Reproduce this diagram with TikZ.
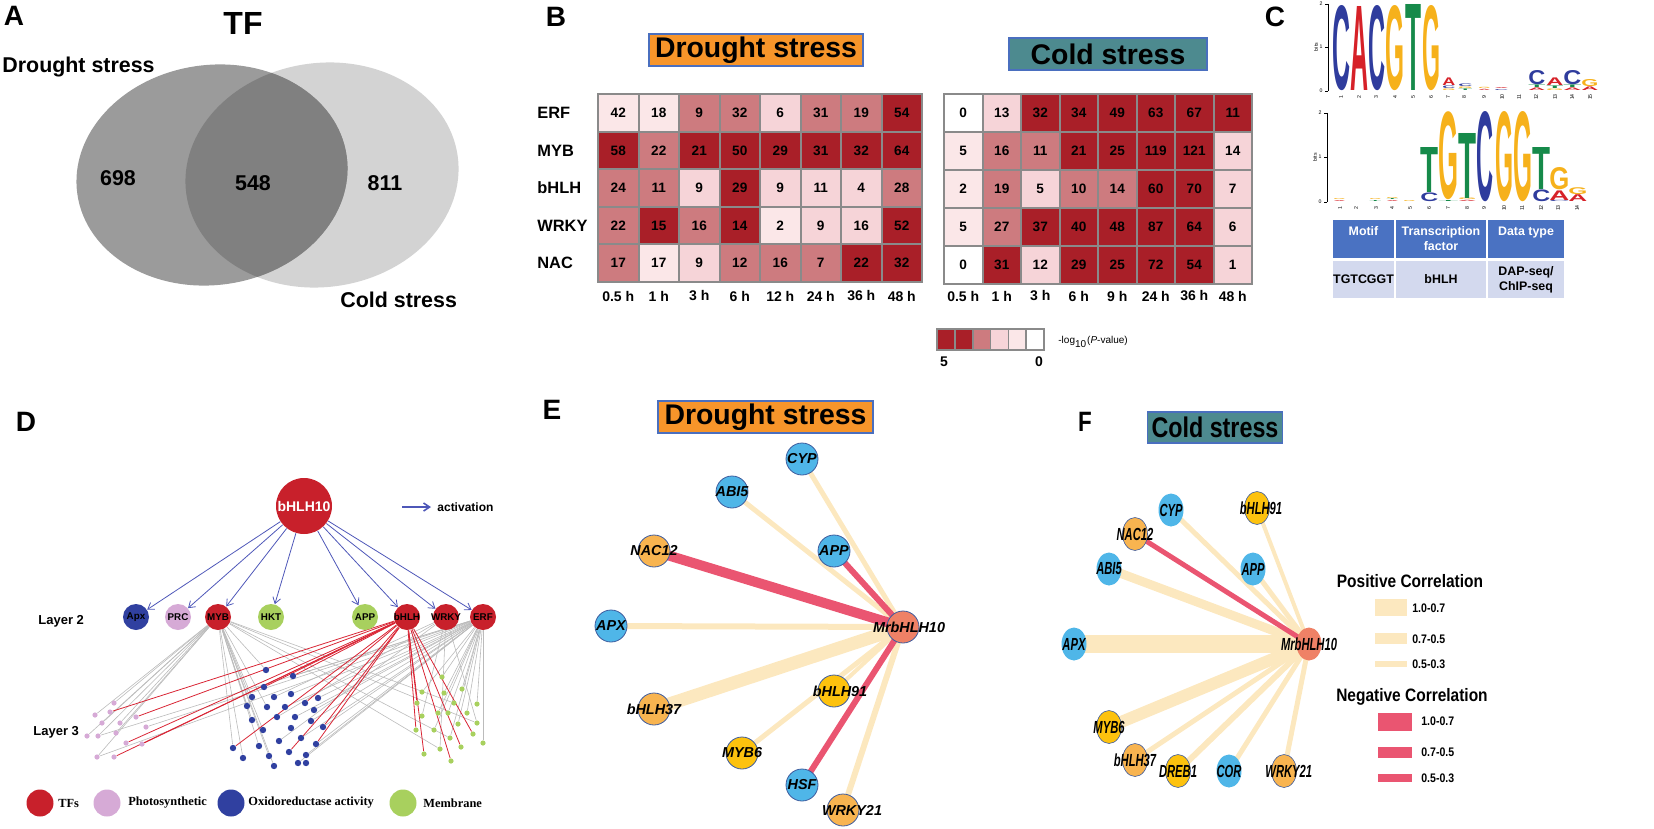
\documentclass[tikz,border=0pt]{standalone}
\usepackage{fontspec}
\setmainfont{Liberation Sans}
\setsansfont{Liberation Sans}
\newfontfamily\legserif{Liberation Serif}
\usetikzlibrary{positioning,arrows.meta,shapes.geometric,backgrounds}

\definecolor{vennleft}{HTML}{9B9B9B}
\definecolor{vennright}{HTML}{D3D3D3}
\definecolor{venndark}{HTML}{808080}
\definecolor{hm0}{HTML}{FFFFFF}
\definecolor{hm1}{HTML}{FBE7E8}
\definecolor{hm2}{HTML}{F6D4D8}
\definecolor{hm3}{HTML}{CD7B7F}
\definecolor{hm4}{HTML}{A91F28}
\definecolor{hmgrid}{HTML}{8A8A8A}
\definecolor{droughtorange}{HTML}{F7952A}
\definecolor{coldteal}{HTML}{4D8A8F}
\definecolor{boxedge}{HTML}{4A6FBF}
\definecolor{logoA}{HTML}{D62128}
\definecolor{logoC}{HTML}{2F3C9D}
\definecolor{logoG}{HTML}{F6B11B}
\definecolor{logoT}{HTML}{168A4A}
\definecolor{tabblue}{HTML}{4A72C2}
\definecolor{tabrow}{HTML}{D3D9EE}
\definecolor{tfred}{HTML}{C8202B}
\definecolor{photopink}{HTML}{D6AAD6}
\definecolor{oxiblue}{HTML}{3040A0}
\definecolor{membgreen}{HTML}{A8D05E}
\definecolor{actblue}{HTML}{4E57B8}
\definecolor{edgegray}{HTML}{BBBBBB}
\definecolor{edgered}{HTML}{D92535}
\definecolor{geneblue}{HTML}{4FB6E8}
\definecolor{geneorange}{HTML}{F8B450}
\definecolor{geneyellow}{HTML}{FDC20E}
\definecolor{hubred}{HTML}{EF8166}
\definecolor{geneedge}{HTML}{3E5C9E}
\definecolor{poscor}{HTML}{FCE8BF}
\definecolor{negcor}{HTML}{EA5571}

\tikzset{
  panellab/.style={inner sep=0, font=\bfseries\fontsize{14}{16}\selectfont},
  vennlab/.style={inner sep=0, font=\bfseries\fontsize{10.7}{12}\selectfont},
  stressbox/.style={draw=boxedge, line width=0.6pt, inner sep=0, minimum height=16pt, font=\bfseries\fontsize{14.2}{16}\selectfont},
  rowlab/.style={anchor=west, inner sep=0, font=\bfseries\fontsize{8.2}{9}\selectfont},
  collab/.style={inner sep=0, font=\bfseries\fontsize{7}{8}\selectfont},
  hmcell/.style={rectangle, draw=hmgrid, line width=1pt, inner sep=0, font=\bfseries\fontsize{6.8}{8}\selectfont},
  keycell/.style={rectangle, draw=hmgrid, line width=0.8pt, inner sep=0, minimum width=8.9pt, minimum height=10.5pt},
  logo/.style={anchor=south west, inner sep=0, font=\sffamily\bfseries},
  ticklab/.style={inner sep=0, font=\fontsize{2.6}{3}\selectfont},
  tabhead/.style={draw=white, line width=0.6pt, fill=tabblue, text=white, inner sep=0, minimum height=20pt, align=center, font=\bfseries\fontsize{6.2}{7.5}\selectfont},
  tabcell/.style={draw=white, line width=0.6pt, fill=tabrow, inner sep=0, minimum height=19.5pt, align=center, font=\bfseries\fontsize{6.2}{7.5}\selectfont},
  hubnode/.style={circle, fill=tfred, inner sep=0, minimum size=28pt, text=white, font=\bfseries\fontsize{7}{8}\selectfont},
  layernode/.style={circle, inner sep=0, minimum size=13pt},
  layerlab/.style={inner sep=0, font=\bfseries\fontsize{4.9}{5}\selectfont},
  sidelab/.style={anchor=west, inner sep=0, font=\bfseries\fontsize{6.5}{7}\selectfont},
  pdot/.style={circle, fill=photopink, inner sep=0, minimum size=2.6pt},
  odot/.style={circle, fill=oxiblue, inner sep=0, minimum size=3.2pt},
  mdot/.style={circle, fill=membgreen, inner sep=0, minimum size=2.6pt},
  actarrow/.style={draw=actblue, line width=0.4pt, -{Straight Barb[length=3pt,width=4pt]}},
  grayedge/.style={draw=edgegray, line width=0.3pt},
  rededge/.style={draw=edgered, line width=0.4pt},
  legdot/.style={circle, inner sep=0, minimum size=13.5pt},
  legtxt/.style={anchor=west, inner sep=0, font=\legserif\bfseries\fontsize{6.2}{7}\selectfont},
  gene/.style={circle, draw=geneedge, line width=0.4pt, inner sep=0, minimum size=16pt},
  genelab/.style={inner sep=0, font=\bfseries\itshape\fontsize{7.2}{8}\selectfont},
  coldgene/.style={ellipse, draw=geneedge, line width=0.3pt, inner sep=0, minimum width=12.5pt, minimum height=16.5pt},
  coldlab/.style={inner sep=0, xscale=0.8, yscale=1.25, font=\bfseries\itshape\fontsize{7}{8}\selectfont},
  poslink/.style={draw=poscor, line width=#1},
  neglink/.style={draw=negcor, line width=#1},
  corrtitle/.style={inner sep=0, xscale=0.86, font=\bfseries\fontsize{9}{10}\selectfont},
  corrlab/.style={anchor=west, inner sep=0, xscale=0.85, font=\bfseries\fontsize{6.2}{7}\selectfont}
}

\begin{document}
\begin{tikzpicture}[x=0.5pt,y=-0.5pt]
\useasboundingbox (0,0) rectangle (1654,829);

% Panel letters
\node[panellab] (labA) at (14,16) {A};
\node[panellab] (labB) at (556,17) {B};
\node[panellab] (labC) at (1275,17) {C};
\node[panellab] (labD) at (26,422) {D};
\node[panellab] (labE) at (552,410) {E};
\node[panellab, xscale=0.8] (labF) at (1085,422) {F};

% Venn diagram
\node[inner sep=0, font=\bfseries\fontsize{16}{18}\selectfont] (tftitle) at (243,23) {TF};
\fill[vennright, rotate around={8:(322,175)}] (322,175) ellipse [x radius=137, y radius=112];
\fill[vennleft, rotate around={8:(212,175)}] (212,175) ellipse [x radius=136, y radius=110];
\begin{scope}
  \clip[rotate around={8:(212,175)}] (212,175) ellipse [x radius=136, y radius=110];
  \fill[venndark, rotate around={8:(322,175)}] (322,175) ellipse [x radius=137, y radius=112];
\end{scope}
\node[vennlab, anchor=west] (vdrought) at (2,67) {Drought stress};
\node[vennlab, anchor=west] (vcold) at (340,300) {Cold stress};
\node[vennlab] (vleft) at (118,178) {698};
\node[vennlab] (vmid) at (253,183) {548};
\node[vennlab] (vright) at (385,183) {811};

% Heat map titles
\node[stressbox, fill=droughtorange, minimum width=107pt] (hdrought) at (756,50) {Drought stress};
\node[stressbox, fill=coldteal, minimum width=99pt] (hcold) at (1108,54) {Cold stress};

% Drought heat map
\foreach \tf/\cells [count=\r from 0] in {ERF/{42/1,18/1,9/3,32/3,6/2,31/3,19/3,54/4},
    MYB/{58/4,22/3,21/4,50/4,29/4,31/4,32/4,64/4},
    bHLH/{24/3,11/3,9/2,29/4,9/2,11/2,4/2,28/3},
    WRKY/{22/3,15/4,16/3,14/4,2/1,9/2,16/2,52/4},
    NAC/{17/3,17/1,9/2,12/3,16/3,7/3,22/4,32/4}}{
  \node[rowlab] (dtf\r) at (537,112.8+37.6*\r) {\tf};
  \foreach \v/\c [count=\k from 0] in \cells
    \node[hmcell, minimum width=20.25pt, minimum height=18.8pt, fill=hm\c] (dcell\r\k) at (618.25+40.5*\k,112.8+37.6*\r) {\v};
}
\foreach \t [count=\k from 0] in {0.5 h,1 h,3 h,6 h,12 h,24 h,36 h,48 h}
  \node[collab] (dtime\k) at (618.25+40.5*\k,296) {\t};

% Cold heat map
\foreach \cells [count=\r from 0] in {{0/0,13/2,32/4,34/4,49/4,63/4,67/4,11/4},
    {5/1,16/3,11/3,21/4,25/4,119/4,121/4,14/2},
    {2/1,19/3,5/2,10/3,14/3,60/4,70/4,7/2},
    {5/1,27/3,37/4,40/4,48/4,87/4,64/4,6/2},
    {0/0,31/4,12/2,29/4,25/4,72/4,54/4,1/2}}{
  \foreach \v/\c [count=\k from 0] in \cells
    \node[hmcell, minimum width=19.25pt, minimum height=19pt, fill=hm\c] (ccell\r\k) at (963.25+38.5*\k,113+38*\r) {\v};
}
\foreach \t [count=\k from 0] in {0.5 h,1 h,3 h,6 h,9 h,24 h,36 h,48 h}
  \node[collab] (ctime\k) at (963.25+38.5*\k,296) {\t};

% Colour key
\foreach \c [count=\k from 0] in {4,4,3,2,1,0}
  \node[keycell, fill=hm\c] (key\k) at (946+17.8*\k,339.5) {};
\node[collab] (keyhi) at (944,362) {5};
\node[collab] (keylo) at (1039,362) {0};
\node[anchor=west, inner sep=0, font=\fontsize{5}{6}\selectfont] (keytitle) at (1058,342) {-log\textsubscript{10}(\textit{P}-value)};

% Motif logo 1
\draw[line width=0.3pt] (1328,4) -- (1328,91);
\foreach \y/\t in {91/0,47/1,4/2}{
  \draw[line width=0.3pt] (1325,\y) -- (1328,\y);
  \node[ticklab] (ya\t) at (1321,\y) {\t};
}
\node[ticklab, rotate=90] (bitsa) at (1316,47) {bits};
\foreach \x/\b/\w/\h/\ch/\col [count=\i] in {1332/91/9/42/C/logoC, 1350/91/9/42/A/logoA, 1368/91/8.5/42/C/logoC,
    1385/91/9.5/42/G/logoG, 1405/91/8/43/T/logoT, 1422/91/9/42/G/logoG,
    1442/91/6.5/0.8/G/logoG, 1442/89/6.5/1.3/C/logoC, 1442/86/6.5/3.8/A/logoA,
    1458/91/7/0.8/T/logoT, 1458/89/7/0.8/G/logoG, 1458/87/7/1.3/C/logoC,
    1478/91/6/0.6/A/logoA, 1478/89/6/0.6/G/logoG,
    1494/91/7/0.5/C/logoC, 1494/89.5/7/0.5/A/logoA,
    1528/91/8.5/1.3/A/logoA, 1528/88/8.5/1.3/T/logoT, 1528/85/8.5/7/C/logoC,
    1546/91/8.5/0.8/G/logoG, 1546/89/8.5/1.3/T/logoT, 1546/86/8.5/3.8/A/logoA,
    1563/91/9/1.3/A/logoA, 1563/88/9/1.3/T/logoT, 1563/85/9/7/C/logoC,
    1581/91/8.5/1.8/A/logoA, 1581/87/8.5/3.5/G/logoG}
  \node[logo, text=\col] (la\i) at (\x,\b) {\resizebox{\w pt}{\h pt}{\ch}};
\foreach \x [count=\i] in {1341,1359,1376,1395,1413,1431,1448,1464,1484,1502,1519,1536,1555,1572,1590}
  \node[ticklab, rotate=90] (xa\i) at (\x,97) {\i};

% Motif logo 2
\draw[line width=0.3pt] (1327,113) -- (1327,202);
\foreach \y/\t in {202/0,157/1,113/2}{
  \draw[line width=0.3pt] (1324,\y) -- (1327,\y);
  \node[ticklab] (yb\t) at (1320,\y) {\t};
}
\node[ticklab, rotate=90] (bitsb) at (1315,157) {bits};
\foreach \x/\b/\w/\h/\ch/\col [count=\i] in {1333/202/6/0.5/A/logoA, 1333/200.6/6/0.5/G/logoG,
    1369/202/6/0.5/T/logoT, 1369/200.6/6/0.5/G/logoG,
    1386/202/6/0.5/A/logoA, 1386/200.6/6/0.5/T/logoT, 1386/199.2/6/0.5/G/logoG,
    1403/202/6/0.5/G/logoG,
    1420/202/9/4.3/C/logoC, 1420/193/9/22.5/T/logoT,
    1438/202/10/0.5/T/logoT, 1438/200.6/10/43.4/G/logoG,
    1458/202/9/0.6/A/logoA, 1458/200.4/9/0.8/G/logoG, 1458/198.4/9/32.5/T/logoT,
    1476/202/8.5/44.5/C/logoC, 1495/202/9/44.5/G/logoG, 1513/202/9.5/44.5/G/logoG,
    1532/202/9/5.8/C/logoC, 1532/190/9/21/T/logoT,
    1549/202/10/0.6/C/logoC, 1549/200.4/10/4.8/A/logoA, 1549/190.4/10/11/G/logoG,
    1568/202/9.5/3.4/A/logoA, 1568/195/9.5/3.4/G/logoG}
  \node[logo, text=\col] (lb\i) at (\x,\b) {\resizebox{\w pt}{\h pt}{\ch}};
\foreach \x [count=\i] in {1340,1356,1376,1392,1410,1429,1448,1467,1484,1504,1522,1541,1558,1577}
  \node[ticklab, rotate=90] (xb\i) at (\x,208) {\i};

% Motif table
\node[tabhead, minimum width=31.5pt] (thmotif) at (1363.5,239) {Motif\\\mbox{}};
\node[tabhead, minimum width=46pt] (thtf) at (1441,239) {Transcription\\factor};
\node[tabhead, minimum width=39pt] (thdata) at (1526,239) {Data type\\\mbox{}};
\node[tabcell, minimum width=31.5pt] (tdmotif) at (1363.5,279.5) {TGTCGGT};
\node[tabcell, minimum width=46pt] (tdtf) at (1441,279.5) {bHLH};
\node[tabcell, minimum width=39pt] (tddata) at (1526,279.5) {DAP-seq/\\ChIP-seq};

% Regulatory network (D)
\node[hubnode] (hub) at (304,506) {bHLH10};
\coordinate (acta) at (402,507);
\node[anchor=west, inner sep=0, font=\bfseries\fontsize{6}{7}\selectfont] (actlab) at (437,507) {activation};
\draw[actarrow, line width=0.8pt] (acta) -- ([xshift=-3pt]actlab.west);
\foreach \nm/\lab/\x/\col in {apx/Apx/136/oxiblue, prc/PRC/178/photopink, myb/MYB/218/tfred,
    hkt/HKT/271/membgreen, app/APP/365/membgreen, bhlh/bHLH/407/tfred,
    wrky/WRKY/446/tfred, erf/ERF/483/tfred}{
  \node[layernode, fill=\col, label={[layerlab]center:\lab}] (\nm) at (\x,617) {};
  \draw[actarrow] (hub) -- (\nm);
}
\node[sidelab] (layer2) at (38,621) {Layer 2};
\node[sidelab] (layer3) at (33,732) {Layer 3};

% Layer 3 genes
\foreach \x/\y [count=\i] in {114/703,110/712,95/715,102/723,120/723,136/717,146/727,87/736,98/736,116/733,126/743,142/744,97/757,114/757}
  \node[pdot] (p\i) at (\x,\y) {};
\foreach \x/\y [count=\i] in {266/670,293/676,264/687,252/697,274/697,291/694,247/706,267/707,285/707,305/703,318/698,
    314/710,252/720,277/717,295/717,311/721,263/730,291/728,323/727,233/748,259/746,279/741,301/738,316/744,
    243/758,269/756,289/752,306/755,274/766,298/763,306/763}
  \node[odot] (o\i) at (\x,\y) {};
\foreach \x/\y [count=\i] in {442/677,462/689,422/692,444/693,417/703,454/703,477/704,422/716,438/713,448/713,467/713,
    477/723,458/724,416/730,434/730,473/734,450/738,440/749,461/747,483/743,424/754,451/761}
  \node[mdot] (m\i) at (\x,\y) {};

\begin{pgfonlayer}{background}
  \foreach \t in {p1,p3,p4,p5,p8,p9,p10,p13,o1,o4,o7,o8,o13,o17,o20,o21,o25,o26,o29,m6,m12,m17,m18}
    \draw[grayedge] (myb) -- (\t);
  \foreach \t in {p7,p9,p13,o2,o6,o9,o11,o12,o15,o16,o19,o23,o24,o28,o30,m1,m2,m3,m4,m7,m9,m10,m11,m13,m15,m17,m20}
    \draw[grayedge] (erf) -- (\t);
  \foreach \t in {o5,o14,o22,m8,m12,m18}
    \draw[grayedge] (wrky) -- (\t);
  \foreach \t in {p2,p6,p11,p12,p14,o2,o3,o10,o19,o20,o24,o27,m5,m14,m16,m19,m21,m22}
    \draw[rededge] (bhlh) -- (\t);
\end{pgfonlayer}

% Legend (D)
\node[legdot, fill=tfred] (kTF) at (40,803) {};
\node[legtxt] (kTFlab) at (58,803) {TFs};
\node[legdot, fill=photopink] (kPS) at (107,803) {};
\node[legtxt] (kPSlab) at (128,803) {Photosynthetic};
\node[legdot, fill=oxiblue] (kOX) at (231,803) {};
\node[legtxt] (kOXlab) at (248,803) {Oxidoreductase activity};
\node[legdot, fill=membgreen] (kMB) at (403,803) {};
\node[legtxt] (kMBlab) at (423,803) {Membrane};

% Co-expression under drought (E)
\node[stressbox, fill=droughtorange, minimum width=107.5pt] (edrought) at (765.5,417) {Drought stress};
\node[gene, fill=hubred, label={[genelab, xshift=3pt]center:MrbHLH10}] (ehub) at (903,627) {};
\node[gene, fill=geneblue, label={[genelab]center:CYP}] (ecyp) at (802,459) {};
\node[gene, fill=geneblue, label={[genelab]center:ABI5}] (eabi) at (732,492) {};
\node[gene, fill=geneorange, label={[genelab]center:NAC12}] (enac) at (654,551) {};
\node[gene, fill=geneblue, label={[genelab]center:APP}] (eapp) at (834,551) {};
\node[gene, fill=geneblue, label={[genelab]center:APX}] (eapx) at (611,626) {};
\node[gene, fill=geneyellow, label={[genelab, xshift=3pt]center:bHLH91}] (ebhlha) at (834,691) {};
\node[gene, fill=geneorange, label={[genelab]center:bHLH37}] (ebhlhb) at (654,709) {};
\node[gene, fill=geneyellow, label={[genelab]center:MYB6}] (emyb) at (742,753) {};
\node[gene, fill=geneblue, label={[genelab]center:HSF}] (ehsf) at (802,785) {};
\node[gene, fill=geneorange, label={[genelab, xshift=4.5pt]center:WRKY21}] (ewrky) at (843,810) {};
\begin{pgfonlayer}{background}
  \draw[poslink=2.5pt] (ehub.center) -- (ecyp.center);
  \draw[poslink=2.5pt] (ehub.center) -- (eabi.center);
  \draw[poslink=3pt] (ehub.center) -- (eapx.center);
  \draw[poslink=6.5pt] (ehub.center) -- (ebhlhb.center);
  \draw[poslink=2pt] (ehub.center) -- (ebhlha.center);
  \draw[poslink=2.5pt] (ehub.center) -- (emyb.center);
  \draw[poslink=3pt] (ehub.center) -- (ewrky.center);
  \draw[neglink=5pt] (ehub.center) -- (enac.center);
  \draw[neglink=3pt] (ehub.center) -- (eapp.center);
  \draw[neglink=3pt] (ehub.center) -- (ehsf.center);
\end{pgfonlayer}

% Co-expression under cold (F)
\node[stressbox, fill=coldteal, minimum width=82pt, minimum height=15.5pt, xscale=0.82] (fcold) at (1215,427.5) {Cold stress};
\node[coldgene, fill=hubred, draw=none, label={[coldlab]center:MrbHLH10}] (fhub) at (1309,644) {};
\node[coldgene, fill=geneblue, draw=none, label={[coldlab]center:CYP}] (fcyp) at (1171,510) {};
\node[coldgene, fill=geneyellow, label={[coldlab, xshift=2.5pt]center:bHLH91}] (fbhlha) at (1257,508) {};
\node[coldgene, fill=geneorange, label={[coldlab]center:NAC12}] (fnac) at (1135,534) {};
\node[coldgene, fill=geneblue, draw=none, label={[coldlab]center:ABI5}] (fabi) at (1109,569) {};
\node[coldgene, fill=geneblue, draw=none, label={[coldlab]center:APP}] (fapp) at (1253,569) {};
\node[coldgene, fill=geneblue, draw=none, label={[coldlab]center:APX}] (fapx) at (1074,644) {};
\node[coldgene, fill=geneyellow, label={[coldlab]center:MYB6}] (fmyb) at (1109,727) {};
\node[coldgene, fill=geneorange, label={[coldlab]center:bHLH37}] (fbhlhb) at (1135,760) {};
\node[coldgene, fill=geneyellow, label={[coldlab]center:DREB1}] (fdreb) at (1178,771) {};
\node[coldgene, fill=geneblue, draw=none, label={[coldlab]center:COR}] (fcor) at (1229,771) {};
\node[coldgene, fill=geneorange, label={[coldlab, xshift=3pt]center:WRKY21}] (fwrky) at (1284,771) {};
\begin{pgfonlayer}{background}
  \draw[poslink=9pt] (fhub.center) -- (fapx.center);
  \draw[poslink=6pt] (fhub.center) -- (fmyb.center);
  \draw[poslink=4.5pt] (fhub.center) -- (fabi.center);
  \draw[poslink=2.5pt] (fhub.center) -- (fcyp.center);
  \draw[poslink=2.5pt] (fhub.center) -- (fapp.center);
  \draw[poslink=2pt] (fhub.center) -- (fbhlha.center);
  \draw[poslink=2.5pt] (fhub.center) -- (fbhlhb.center);
  \draw[poslink=3pt] (fhub.center) -- (fdreb.center);
  \draw[poslink=2.5pt] (fhub.center) -- (fcor.center);
  \draw[poslink=2.5pt] (fhub.center) -- (fwrky.center);
  \draw[neglink=2.5pt] (fhub.center) -- (fnac.center);
\end{pgfonlayer}

% Correlation legend
\node[corrtitle] (postitle) at (1410,581) {Positive Correlation};
\node[fill=poscor, inner sep=0, minimum width=16pt, minimum height=8.5pt] (posa) at (1391,607.5) {};
\node[fill=poscor, inner sep=0, minimum width=16pt, minimum height=5.5pt] (posb) at (1391,638.5) {};
\node[fill=poscor, inner sep=0, minimum width=16pt, minimum height=3pt] (posc) at (1391,664) {};
\node[corrlab] (posalab) at (1412,608) {1.0-0.7};
\node[corrlab] (posblab) at (1412,639) {0.7-0.5};
\node[corrlab] (posclab) at (1412,664) {0.5-0.3};
\node[corrtitle] (negtitle) at (1412,697) {Negative Correlation};
\node[fill=negcor, inner sep=0, minimum width=17pt, minimum height=9pt] (nega) at (1395,722) {};
\node[fill=negcor, inner sep=0, minimum width=17pt, minimum height=5.5pt] (negb) at (1395,752.5) {};
\node[fill=negcor, inner sep=0, minimum width=17pt, minimum height=4pt] (negc) at (1395,778) {};
\node[corrlab] (negalab) at (1421,721) {1.0-0.7};
\node[corrlab] (negblab) at (1421,752) {0.7-0.5};
\node[corrlab] (negclab) at (1421,778) {0.5-0.3};
\end{tikzpicture}
\end{document}
